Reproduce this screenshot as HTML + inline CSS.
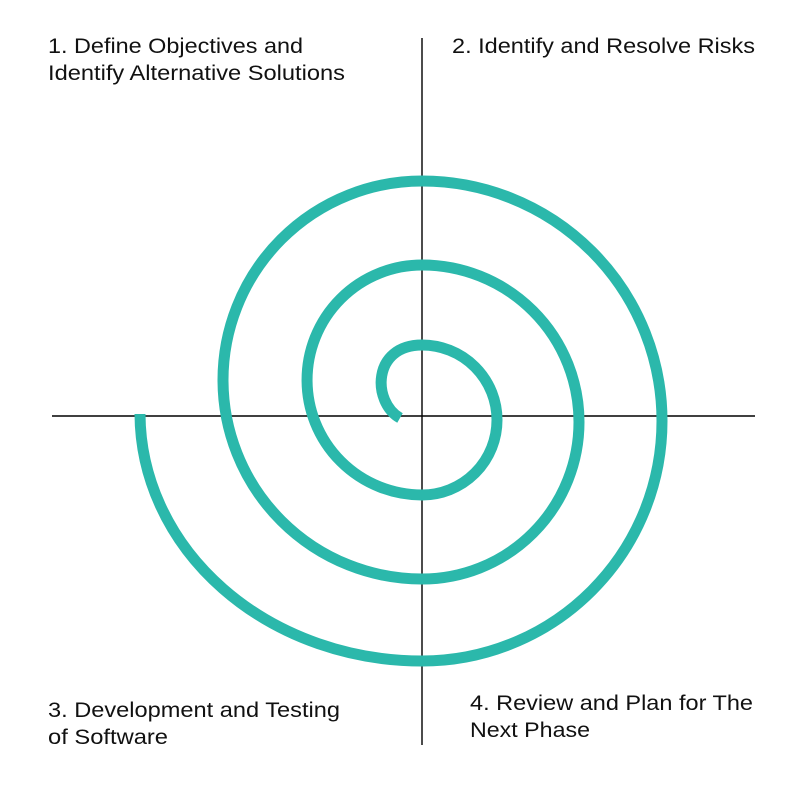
<!DOCTYPE html>
<html><head><meta charset="utf-8"><style>
html,body{margin:0;padding:0;background:#fff;}
svg{display:block;}
text{font-family:"Liberation Sans",Arial,sans-serif;font-size:21px;fill:#111;}
</style></head><body>
<svg width="806" height="810" viewBox="0 0 806 810">
<line x1="422" y1="38" x2="422" y2="745" stroke="#000" stroke-width="1.4"/>
<line x1="52" y1="416" x2="755" y2="416" stroke="#000" stroke-width="1.4"/>
<path fill="none" stroke="#2bb8ab" stroke-width="11" stroke-linecap="butt"
 d="M400,418 C372,402 372,345 422,345 A75,75 0 0 1 422,495 A115,115 0 0 1 422,265 A157,157 0 0 1 422,579 A199,199 0 0 1 422,181 A240,240 0 0 1 422,661 A282,248 0 0 1 140,414"/>
<g><text x="48" y="53" textLength="255" lengthAdjust="spacingAndGlyphs">1. Define Objectives and</text><text x="48" y="80" textLength="297" lengthAdjust="spacingAndGlyphs">Identify Alternative Solutions</text></g>
<g><text x="452" y="53" textLength="303" lengthAdjust="spacingAndGlyphs">2. Identify and Resolve Risks</text></g>
<g><text x="48" y="717" textLength="292" lengthAdjust="spacingAndGlyphs">3. Development and Testing</text><text x="48" y="744" textLength="120" lengthAdjust="spacingAndGlyphs">of Software</text></g>
<g><text x="470" y="710" textLength="283" lengthAdjust="spacingAndGlyphs">4. Review and Plan for The</text><text x="470" y="737" textLength="120" lengthAdjust="spacingAndGlyphs">Next Phase</text></g>
</svg>
</body></html>
